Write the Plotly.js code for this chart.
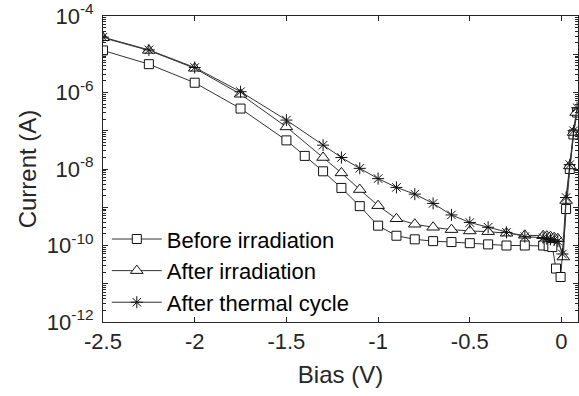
<!DOCTYPE html>
<html>
<head>
<meta charset="utf-8">
<script src="https://cdn.plot.ly/plotly-3.0.1.min.js"></script>
<style>html,body{margin:0;padding:0;background:#fff;}#chart{width:579px;height:396px;}</style>
</head>
<body>
<div id="chart"></div>
<script>
// Data
const seriesNames = ["Before irradiation", "After irradiation", "After thermal cycle"];

const xBefore = [-2.5, -2.25, -2, -1.75, -1.5, -1.4, -1.3, -1.2, -1.1, -1.0, -0.9, -0.8, -0.7, -0.6, -0.5, -0.4, -0.3, -0.2, -0.1, -0.07, -0.05, -0.03, -0.005, 0.025, 0.045, 0.065, 0.085];
const yBefore = [1.26e-5, 5.5e-6, 1.8e-6, 3.8e-7, 5.6e-8, 2.2e-8, 8.7e-9, 3.2e-9, 1.07e-9, 3.3e-10, 1.8e-10, 1.45e-10, 1.3e-10, 1.23e-10, 1.15e-10, 1.07e-10, 1.0e-10, 1.0e-10, 1.0e-10, 9.6e-11, 9.1e-11, 2.5e-11, 1.5e-11, 9e-10, 1e-8, 8e-8, 3e-7];

const xAfterIrr = [-2.5, -2.25, -2, -1.75, -1.5, -1.3, -1.2, -1.1, -1.0, -0.9, -0.8, -0.7, -0.6, -0.5, -0.4, -0.3, -0.2, -0.1, -0.08, -0.06, -0.04, -0.02, 0.01, 0.025, 0.045, 0.066, 0.08];
const yAfterIrr = [2.7e-5, 1.26e-5, 4.3e-6, 9e-7, 1.26e-7, 2e-8, 7.9e-9, 2.9e-9, 1.1e-9, 5e-10, 3.6e-10, 3e-10, 2.6e-10, 2.4e-10, 2.3e-10, 2.1e-10, 1.85e-10, 1.8e-10, 1.75e-10, 1.7e-10, 1.6e-10, 1.5e-10, 5e-11, 1.5e-9, 1.2e-8, 9e-8, 3e-7];

const xThermal = [-2.5, -2.25, -2, -1.75, -1.5, -1.3, -1.2, -1.1, -1.0, -0.9, -0.8, -0.7, -0.6, -0.5, -0.4, -0.3, -0.2, -0.1, -0.08, -0.06, -0.04, -0.02, 0.005, 0.025, 0.045, 0.066, 0.085];
const yThermal = [2.8e-5, 1.3e-5, 4.5e-6, 1.05e-6, 1.9e-7, 4.2e-8, 2e-8, 1.04e-8, 5.6e-9, 3.3e-9, 2.2e-9, 1.26e-9, 6.3e-10, 4e-10, 3e-10, 2.2e-10, 1.7e-10, 1.6e-10, 1.5e-10, 1.45e-10, 1.4e-10, 1.3e-10, 6e-11, 1.8e-9, 1.3e-8, 1e-7, 4e-7];

const xTickVals = [-2.5, -2, -1.5, -1, -0.5, 0];
const xTickText = ["-2.5", "-2", "-1.5", "-1", "-0.5", "0"];
const yTickVals = [1e-12, 1e-11, 1e-10, 1e-9, 1e-8, 1e-7, 1e-6, 1e-5, 1e-4];
const yTickText = ["10<sup>-12</sup>", "", "10<sup>-10</sup>", "", "10<sup>-8</sup>", "", "10<sup>-6</sup>", "", "10<sup>-4</sup>"];

const ink = "#262626";
const lineCol = "#333333";
const font = "Liberation Sans, Arial, sans-serif";

function trace(x, y, name, symbol, size) {
  return {
    x: x, y: y, name: name, type: "scatter", mode: "lines+markers",
    line: {color: lineCol, width: 1},
    marker: {symbol: symbol, size: size, color: "#ffffff", line: {color: "#111111", width: 1}},
    cliponaxis: true
  };
}

const data = [
  trace(xBefore, yBefore, seriesNames[0], "square", 9),
  trace(xAfterIrr, yAfterIrr, seriesNames[1], "triangle-up", 11),
  trace(xThermal, yThermal, seriesNames[2], "asterisk-open", 10)
];
data[2].marker.color = "#111111";

const layout = {
  width: 579, height: 396,
  margin: {l: 103, r: 1, t: 16, b: 74},
  paper_bgcolor: "#ffffff", plot_bgcolor: "#ffffff",
  font: {family: font, size: 22, color: ink},
  showlegend: true,
  legend: {
    x: 0.008, y: -0.004, xanchor: "left", yanchor: "bottom",
    bgcolor: "rgba(255,255,255,0)", borderwidth: 0,
    font: {family: font, size: 22, color: "#000000"},
    itemwidth: 50, tracegroupgap: 0
  },
  xaxis: {
    range: [-2.5, 0.09], tickmode: "array", tickvals: xTickVals, ticktext: xTickText,
    showline: true, linecolor: ink, linewidth: 1, mirror: "ticks",
    ticks: "inside", ticklen: 5, tickcolor: ink, showgrid: false, zeroline: false,
    tickfont: {family: font, size: 22, color: ink},
    title: {text: "Bias (V)", font: {family: font, size: 24, color: ink}, standoff: 12}
  },
  yaxis: {
    type: "log", range: [-12, -4], tickmode: "array", tickvals: yTickVals, ticktext: yTickText,
    showline: true, linecolor: ink, linewidth: 1, mirror: "ticks",
    ticks: "inside", ticklen: 5, tickcolor: ink, showgrid: false, zeroline: false,
    ticklabelstandoff: 4,
    tickfont: {family: font, size: 22, color: ink},
    minor: {ticks: "inside", ticklen: 3, tickcolor: ink, dtick: "D1", showgrid: false},
    title: {text: "Current (A)", font: {family: font, size: 24, color: ink}, standoff: 3}
  }
};

Plotly.newPlot("chart", data, layout, {staticPlot: true, displayModeBar: false});
</script>
</body>
</html>
